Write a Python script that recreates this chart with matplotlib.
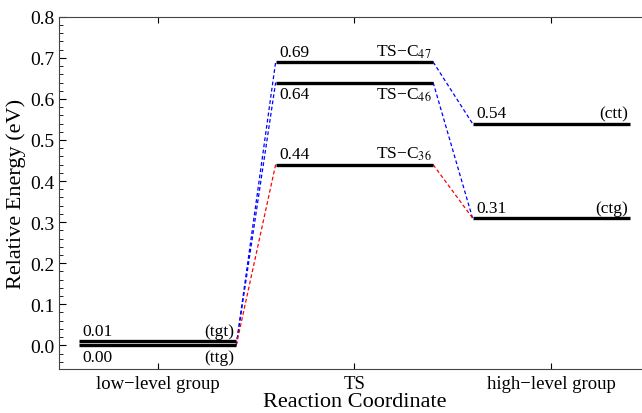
import matplotlib.pyplot as plt
from matplotlib.ticker import MultipleLocator

plt.rcParams['font.family'] = ['Liberation Serif', 'DejaVu Serif']
plt.rcParams['mathtext.fontset'] = 'stix'

# energy levels (eV)
groups = ['low\u2212level group', 'TS', 'high\u2212level group']
low_vals = [0.01, 0.00]
low_names = ['(tgt)', '(ttg)']
ts_vals = [0.69, 0.64, 0.44]
ts_names = ['TS\u2212C$_{47}$', 'TS\u2212C$_{46}$', 'TS\u2212C$_{36}$']
high_vals = [0.54, 0.31]
high_names = ['(ctt)', '(ctg)']

# connections: (from level, to level, colour)
left_links = [(0.00, 0.69, 'b'), (0.00, 0.64, 'b'), (0.00, 0.44, 'r')]
right_links = [(0.69, 0.54, 'b'), (0.64, 0.31, 'b'), (0.44, 0.31, 'r')]

half = 0.4
fig = plt.figure(figsize=(6.42, 4.14), dpi=100)
ax = fig.add_axes([0.092, 0.106, 0.92, 0.851])

def level(x, y):
    ax.plot([x - half, x + half], [y, y], color='black', lw=2.4, solid_capstyle='butt', zorder=3)

for y in low_vals:
    level(1, y)
for y in ts_vals:
    level(2, y)
for y in high_vals:
    level(3, y)

for y0, y1, c in left_links:
    ax.plot([1 + half, 2 - half], [y0, y1], ls=(0, (3, 2)), color=c, lw=0.9, zorder=2)
for y0, y1, c in right_links:
    ax.plot([2 + half, 3 - half], [y0, y1], ls=(0, (3, 2)), color=c, lw=0.9, zorder=2)

fs = 12.5
up, dn = 0.006, -0.008
# low-level labels
ax.text(1 - half + 0.02, low_vals[0] + up, '%.2f' % low_vals[0], fontsize=fs, va='bottom', ha='left')
ax.text(1 - half + 0.02, low_vals[1] + dn, '%.2f' % low_vals[1], fontsize=fs, va='top', ha='left')
ax.text(1 + half - 0.01, low_vals[0] + up, low_names[0], fontsize=fs, va='bottom', ha='right')
ax.text(1 + half - 0.01, low_vals[1] + dn, low_names[1], fontsize=fs, va='top', ha='right')

# TS labels
for i, (y, n) in enumerate(zip(ts_vals, ts_names)):
    if i == 1:
        ax.text(2 - half + 0.02, y + dn, '%.2f' % y, fontsize=fs, va='top', ha='left')
        ax.text(2 + half - 0.01, y + dn, n, fontsize=fs, va='top', ha='right')
    else:
        ax.text(2 - half + 0.02, y + up, '%.2f' % y, fontsize=fs, va='bottom', ha='left')
        ax.text(2 + half - 0.01, y + up, n, fontsize=fs, va='bottom', ha='right')

# high-level labels
for y, n in zip(high_vals, high_names):
    ax.text(3 - half + 0.02, y + up, '%.2f' % y, fontsize=fs, va='bottom', ha='left')
    ax.text(3 + half - 0.01, y + up, n, fontsize=fs, va='bottom', ha='right')

ax.set_xlim(0.5, 3.5)
ax.set_ylim(-0.058, 0.8)
ax.set_xticks([1, 2, 3])
ax.set_xticklabels(groups, fontsize=13.5)
ax.yaxis.set_major_locator(MultipleLocator(0.1))
ax.yaxis.set_minor_locator(MultipleLocator(0.02))
ax.yaxis.set_major_formatter(plt.FuncFormatter(lambda v, p: '%.1f' % v))
ax.tick_params(axis='y', which='major', direction='in', length=5, labelsize=14, right=True)
ax.tick_params(axis='y', which='minor', direction='in', length=3, right=True)
ax.tick_params(axis='x', direction='in', length=4, top=True, pad=4)
for s in ax.spines.values():
    s.set_linewidth(0.8)
    s.set_color('#444444')

ax.set_xlabel('Reaction Coordinate', fontsize=16, labelpad=0)
ax.set_ylabel('Relative Energy (eV)', fontsize=16, labelpad=3)

plt.savefig('out.png', dpi=100)
